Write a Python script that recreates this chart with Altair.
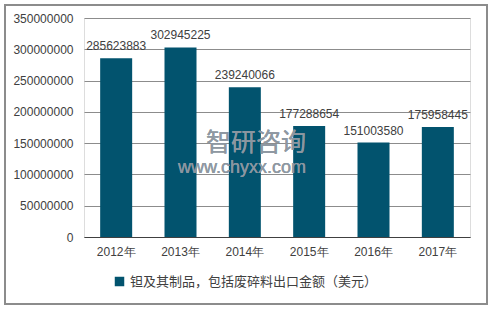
import altair as alt
import pandas as pd

years = ["2012年", "2013年", "2014年", "2015年", "2016年", "2017年"]
values = [285623883, 302945225, 239240066, 177288654, 151003580, 175958445]
series = "钽及其制品，包括废碎料出口金额（美元）"
ticks = [0, 50000000, 100000000, 150000000, 200000000, 250000000, 300000000, 350000000]

df = pd.DataFrame({"year": years, "value": values, "series": [series] * len(years)})

FONT = "Liberation Sans"
BAR = "#02536E"

x_enc = alt.X("year:N", sort=years, scale=alt.Scale(paddingInner=0.5, paddingOuter=0.25),
              axis=alt.Axis(title=None, labelAngle=0, labelFontSize=12, labelColor="#404040",
                            labelFont=FONT, ticks=False, domainColor="#404040", labelPadding=9))
y_enc = alt.Y("value:Q", scale=alt.Scale(domain=[0, 350000000], nice=False),
              axis=alt.Axis(title=None, values=ticks, format="d",
                            labelFontSize=12, labelColor="#404040", labelFont=FONT, ticks=False,
                            labelOverlap=False, domain=False, gridColor="#8c8c8c", labelPadding=11))

base = alt.Chart(df)

bars = base.mark_bar(color=BAR, size=32).encode(
    x=x_enc,
    y=y_enc,
    color=alt.Color("series:N", scale=alt.Scale(range=[BAR]),
                    legend=alt.Legend(title=None, orient="none", legendX=29, legendY=257,
                                      symbolType="square", symbolSize=90, symbolStrokeWidth=0,
                                      labelFontSize=13, labelFont="Noto Sans CJK SC",
                                      labelColor="#404040", labelLimit=400, labelOffset=4)),
)

labels = base.mark_text(dy=-12, fontSize=12, font=FONT, color="#404040").encode(
    x=x_enc,
    y=y_enc,
    text=alt.Text("value:Q", format="d"),
)

border = alt.Chart(df).mark_rect(fill=None, stroke="#8c8c8c", strokeWidth=1.5).encode(
    x=alt.value(-79), x2=alt.value(403), y=alt.value(-13), y2=alt.value(286)
)

wm1 = alt.Chart(df).mark_text(text="智研咨询", fontSize=25, color="#8e98a2", opacity=0.5,
                             font="Noto Sans CJK SC", align="left").encode(
    x=alt.value(122), y=alt.value(125)
)
wm2 = alt.Chart(df).mark_text(text="www.chyxx.com", fontSize=18, color="#8e98a2", opacity=0.5,
                             font=FONT, align="left").encode(
    x=alt.value(94), y=alt.value(150)
)

chart = alt.layer(border, bars, labels, wm1, wm2).properties(
    width=386, height=219,
    autosize=alt.AutoSizeParams(type="none"),
    padding={"left": 84, "top": 18, "right": 22, "bottom": 73},
).configure_view(stroke=None).configure(background="white")

chart.save("out.html", embed_options={"renderer": "svg", "actions": False})
